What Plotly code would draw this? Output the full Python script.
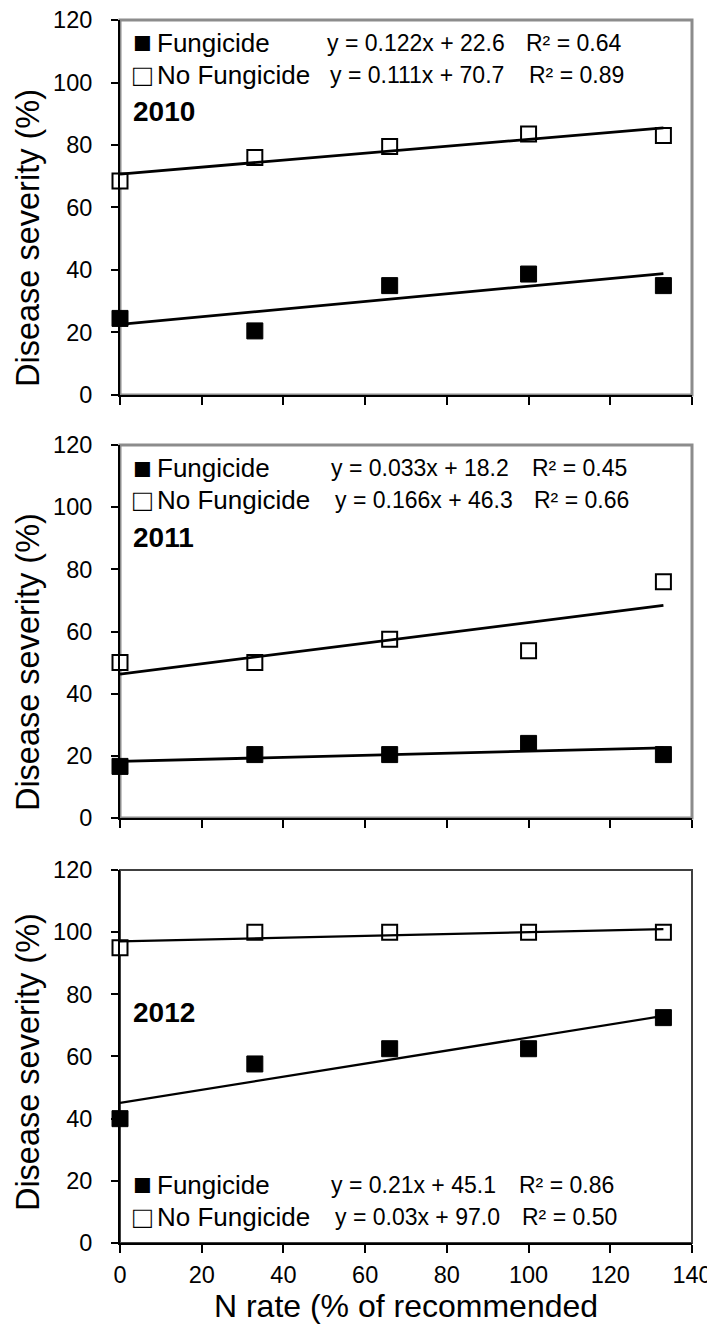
import plotly.graph_objects as go

# ---------------- data ----------------
n_rate = [0, 33, 66, 100, 133]

fung_2010 = [24.5, 20.5, 35.0, 38.7, 35.0]
nofung_2010 = [68.5, 76.0, 79.5, 83.5, 83.0]
fung_2011 = [16.6, 20.4, 20.4, 24.0, 20.4]
nofung_2011 = [50.0, 50.0, 57.5, 53.8, 76.0]
fung_2012 = [40.0, 57.6, 62.5, 62.5, 72.5]
nofung_2012 = [95.0, 100.0, 100.0, 100.0, 100.0]

# trend line coefficients (slope, intercept, R2)
fit_fung = {"2010": (0.122, 22.6, "0.64"), "2011": (0.033, 18.2, "0.45"), "2012": (0.21, 45.1, "0.86")}
fit_nofung = {"2010": (0.111, 70.7, "0.89"), "2011": (0.166, 46.3, "0.66"), "2012": (0.03, 97.0, "0.50")}
eq_fung = {"2010": "y = 0.122x + 22.6", "2011": "y = 0.033x + 18.2", "2012": "y = 0.21x + 45.1"}
eq_nofung = {"2010": "y = 0.111x + 70.7", "2011": "y = 0.166x + 46.3", "2012": "y = 0.03x + 97.0"}

years = ["2010", "2011", "2012"]
fung = {"2010": fung_2010, "2011": fung_2011, "2012": fung_2012}
nofung = {"2010": nofung_2010, "2011": nofung_2011, "2012": nofung_2012}

x_ticks = [0, 20, 40, 60, 80, 100, 120, 140]
y_ticks = [0, 20, 40, 60, 80, 100, 120]

# ---------------- layout geometry ----------------
# (page body has an 8px default margin, so the figure is sized to fit inside)
W, H = 707, 1324
ML, MR, MT, MB = 112, 23, 12, 89
domains = [[0.6934, 1.0], [0.3475, 0.6525], [0.0, 0.305]]
FONT = "Liberation Sans, Arial, sans-serif"

fig = go.Figure()

for i, yr in enumerate(years):
    xa = "x" if i == 0 else f"x{i+1}"
    ya = "y" if i == 0 else f"y{i+1}"
    fig.add_trace(go.Scatter(x=n_rate, y=fung[yr], mode="markers", xaxis=xa, yaxis=ya,
                             marker=dict(symbol="square", size=16, color="black",
                                         line=dict(color="black", width=1)),
                             cliponaxis=False, showlegend=False))
    fig.add_trace(go.Scatter(x=n_rate, y=nofung[yr], mode="markers", xaxis=xa, yaxis=ya,
                             marker=dict(symbol="square", size=15, color="white",
                                         line=dict(color="black", width=2)),
                             cliponaxis=False, showlegend=False))
    for fit in (fit_fung[yr], fit_nofung[yr]):
        m, b, _ = fit
        xs = [n_rate[0], n_rate[-1]]
        fig.add_trace(go.Scatter(x=xs, y=[m * v + b for v in xs], mode="lines",
                                 xaxis=xa, yaxis=ya,
                                 line=dict(color="black", width=2.8 if i < 2 else 2.3),
                                 showlegend=False))

layout = dict(
    template="none",
    width=W, height=H, margin=dict(l=ML, r=MR, t=MT, b=MB, autoexpand=False),
    paper_bgcolor="white", plot_bgcolor="white", showlegend=False,
    font=dict(family=FONT, color="black", size=23),
)

for i, yr in enumerate(years):
    xk = "xaxis" if i == 0 else f"xaxis{i+1}"
    yk = "yaxis" if i == 0 else f"yaxis{i+1}"
    ya = "y" if i == 0 else f"y{i+1}"
    xa = "x" if i == 0 else f"x{i+1}"
    layout[xk] = dict(range=[0, 140], tickvals=x_ticks, showticklabels=(i == 2),
                      ticks="outside", ticklen=8, tickwidth=1.5, tickcolor="black",
                      showline=True, linecolor="black", linewidth=2, showgrid=False,
                      zeroline=False, anchor=ya, ticklabelstandoff=2, automargin=False,
                      ticklabeloverflow="allow", tickfont=dict(size=23.5))
    layout[yk] = dict(range=[0, 120], tickvals=y_ticks, domain=domains[i],
                      ticks="outside", ticklen=7, tickwidth=1.5, tickcolor="black",
                      showline=True, linecolor="black", linewidth=2, showgrid=False,
                      zeroline=False, anchor=xa, ticklabelstandoff=14, automargin=False,
                      ticklabeloverflow="allow", tickfont=dict(size=23.5))
    if i == 2:
        layout[xk]["title"] = dict(text="N rate (% of recommended", font=dict(size=32), standoff=0)

fig.update_layout(**layout)

shapes = []
annotations = []
row_y = [(0.9387, 0.8533, 0.7547), (0.938, 0.8525, 0.7507), (0.1555, 0.0697, 0.6166)]
title_y = [0.4187, 0.418, 0.485]
eq_x = [0.358, 0.366, 0.366]
r2_x = [0.706, 0.716, 0.694]
border_col = ["#8c8c8c", "#8c8c8c", "#404040"]
border_w = [3, 3, 2]
for i, yr in enumerate(years):
    xa = "x" if i == 0 else f"x{i+1}"
    ya = "y" if i == 0 else f"y{i+1}"
    xd, yd = f"{xa} domain", f"{ya} domain"
    shapes.append(dict(type="rect", xref=xd, yref=yd, x0=0, x1=1, y0=0, y1=1,
                       line=dict(color=border_col[i], width=border_w[i]), layer="below"))
    r1, r2, ry = row_y[i]
    annotations += [
        dict(xref=xd, yref=yd, x=0.02, y=r1, text="■", showarrow=False,
             xanchor="left", yanchor="middle", font=dict(size=31)),
        dict(xref=xd, yref=yd, x=0.02, y=r2, text="□", showarrow=False,
             xanchor="left", yanchor="middle", font=dict(size=31)),
        dict(xref=xd, yref=yd, x=0.062, y=r1, text="Fungicide", showarrow=False,
             xanchor="left", yanchor="middle", font=dict(size=26)),
        dict(xref=xd, yref=yd, x=0.062, y=r2, text="No Fungicide", showarrow=False,
             xanchor="left", yanchor="middle", font=dict(size=26)),
        dict(xref=xd, yref=yd, x=eq_x[i], y=r1, text=eq_fung[yr], showarrow=False,
             xanchor="left", yanchor="middle", font=dict(size=23)),
        dict(xref=xd, yref=yd, x=eq_x[i] + 0.006, y=r2, text=eq_nofung[yr], showarrow=False,
             xanchor="left", yanchor="middle", font=dict(size=23)),
        dict(xref=xd, yref=yd, x=r2_x[i], y=r1, text="R² = " + fit_fung[yr][2], showarrow=False,
             xanchor="left", yanchor="middle", font=dict(size=23)),
        dict(xref=xd, yref=yd, x=r2_x[i] + 0.005, y=r2, text="R² = " + fit_nofung[yr][2], showarrow=False,
             xanchor="left", yanchor="middle", font=dict(size=23)),
        dict(xref=xd, yref=yd, x=0.02, y=ry, text="<b>" + yr + "</b>", showarrow=False,
             xanchor="left", yanchor="middle", font=dict(size=28)),
        dict(xref="paper", yref=yd, x=(20 - ML) / (W - ML - MR), y=title_y[i],
             text="Disease severity (%)", textangle=-90, showarrow=False,
             xanchor="center", yanchor="middle", font=dict(size=32.5)),
    ]

fig.update_layout(shapes=shapes, annotations=annotations)
fig.write_html("out.html")
